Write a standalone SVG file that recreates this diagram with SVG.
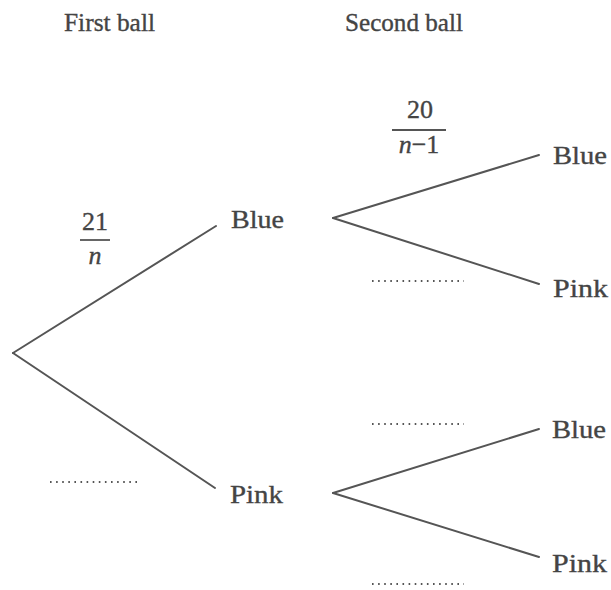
<svg xmlns="http://www.w3.org/2000/svg" width="611" height="590" viewBox="0 0 611 590">
<style>
text{font-family:"Liberation Serif","Times New Roman",serif;font-size:26px;fill:#444;stroke:#444;stroke-width:0.35}
.it{font-style:italic}
.br{stroke:#555;stroke-width:2;fill:none;stroke-linecap:round}
.dot{stroke:#555;stroke-width:2.2;stroke-dasharray:1.6 4.5;fill:none}
.bar{stroke:#555;stroke-width:1.8}
</style>
<rect width="611" height="590" fill="#fff"/>
<g id="headers">
<text x="64" y="31" textLength="91" lengthAdjust="spacingAndGlyphs">First ball</text>
<text x="345" y="31" textLength="118" lengthAdjust="spacingAndGlyphs">Second ball</text>
</g>
<g id="connectors">
<line class="br" x1="13" y1="353" x2="216" y2="226"/>
<line class="br" x1="13" y1="353" x2="215" y2="488"/>
<line class="br" x1="333" y1="218" x2="539" y2="155"/>
<line class="br" x1="333" y1="218" x2="539" y2="284"/>
<line class="br" x1="333" y1="493" x2="539" y2="429"/>
<line class="br" x1="333" y1="493" x2="539" y2="557"/>
</g>
<g id="node-blue1"><text x="231" y="228" textLength="53" lengthAdjust="spacingAndGlyphs">Blue</text></g>
<g id="node-pink1"><text x="230" y="503" textLength="53" lengthAdjust="spacingAndGlyphs">Pink</text></g>
<g id="node-blue-blue"><text x="553" y="164" textLength="54" lengthAdjust="spacingAndGlyphs">Blue</text></g>
<g id="node-blue-pink"><text x="553" y="297" textLength="55" lengthAdjust="spacingAndGlyphs">Pink</text></g>
<g id="node-pink-blue"><text x="552" y="438" textLength="54" lengthAdjust="spacingAndGlyphs">Blue</text></g>
<g id="node-pink-pink"><text x="552" y="572" textLength="55" lengthAdjust="spacingAndGlyphs">Pink</text></g>
<g id="prob-21n">
<text x="95" y="230" text-anchor="middle">21</text>
<line class="bar" x1="80" y1="240" x2="110" y2="240"/>
<text class="it" x="95" y="264" text-anchor="middle">n</text>
</g>
<g id="prob-20n1">
<text x="420" y="118" text-anchor="middle">20</text>
<line class="bar" x1="392" y1="130" x2="446" y2="130"/>
<text x="419" y="153" text-anchor="middle"><tspan class="it">n</tspan>−1</text>
</g>
<g id="blanks">
<line class="dot" x1="372" y1="281" x2="464" y2="281"/>
<line class="dot" x1="372" y1="424" x2="464" y2="424"/>
<line class="dot" x1="50" y1="482" x2="140" y2="482"/>
<line class="dot" x1="372" y1="584" x2="464" y2="584"/>
</g>
</svg>
